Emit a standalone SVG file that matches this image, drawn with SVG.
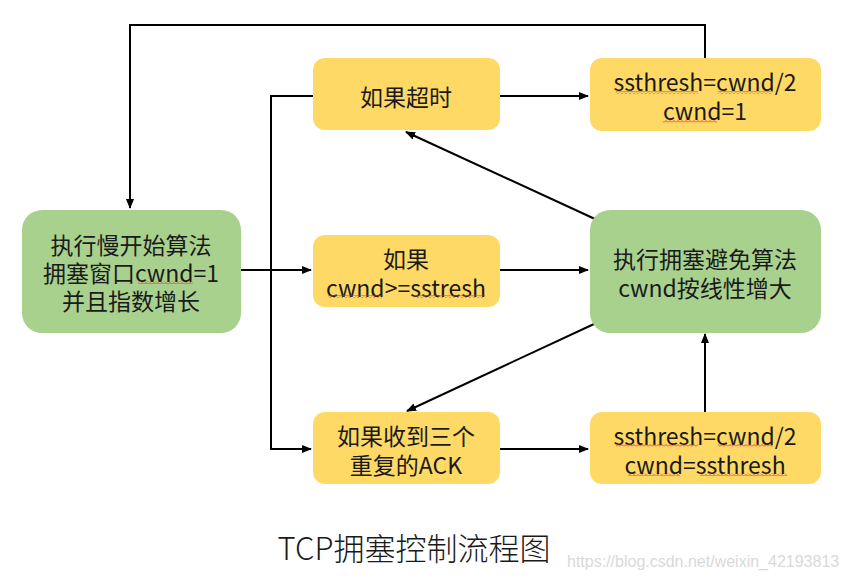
<svg xmlns="http://www.w3.org/2000/svg" width="848" height="581" viewBox="0 0 848 581">
<style>
.y{fill:#FFD966}
.g{fill:#A9D18E}
.t{font-family:"Noto Sans CJK SC","Noto Sans",sans-serif;font-size:23px;fill:#1a1a1a;text-anchor:middle;dominant-baseline:central}
.c{fill:none;stroke:#000;stroke-width:2}
.sq{fill:url(#wave)}
</style>
<defs>
<marker id="ah" markerWidth="10" markerHeight="10" refX="9" refY="5" orient="auto" markerUnits="userSpaceOnUse">
<path d="M0,1 L10,5 L0,9 Z" fill="#000"/>
</marker>
<pattern id="wave" width="4" height="3" patternUnits="userSpaceOnUse">
<path d="M0,2.5 L2,0.5 L4,2.5" fill="none" stroke="#e8312a" stroke-width="0.9"/>
</pattern>
</defs>
<rect width="848" height="581" fill="#fff"/>

<g id="connectors">
<path class="c" d="M705,58 V25 H130 V208" marker-end="url(#ah)"/>
<path class="c" d="M241,270 H311" marker-end="url(#ah)"/>
<path class="c" d="M313,96 H271 V449 H311" marker-end="url(#ah)"/>
<path class="c" d="M500,96 H588" marker-end="url(#ah)"/>
<path class="c" d="M500,270 H588" marker-end="url(#ah)"/>
<path class="c" d="M595,219 L406,132" marker-end="url(#ah)"/>
<path class="c" d="M594,324 L407,411" marker-end="url(#ah)"/>
<path class="c" d="M705,412 V334" marker-end="url(#ah)"/>
<path class="c" d="M500,449 H588" marker-end="url(#ah)"/>
</g>

<g id="slowstart">
<rect class="g" x="22" y="210" width="219" height="123" rx="20"/>
<text class="t" x="131" y="244">执行慢开始算法</text>
<text class="t" x="131" y="272">拥塞窗口cwnd=1</text>
<text class="t" x="131" y="300">并且指数增长</text>
<rect class="sq" x="138" y="281" width="55" height="3"/>
</g>

<g id="timeout">
<rect class="y" x="313" y="58" width="187" height="72" rx="12"/>
<text class="t" x="406" y="96">如果超时</text>
</g>

<g id="reset">
<rect class="y" x="590" y="58" width="231" height="73" rx="12"/>
<text class="t" x="705" y="81">ssthresh=cwnd/2</text>
<text class="t" x="705" y="110">cwnd=1</text>
<rect class="sq" x="616" y="91" width="82" height="3"/>
<rect class="sq" x="718" y="91" width="55" height="3"/>
<rect class="sq" x="663" y="120" width="54" height="3"/>
</g>

<g id="threshold">
<rect class="y" x="313" y="235" width="187" height="72" rx="12"/>
<text class="t" x="406" y="258">如果</text>
<text class="t" x="406" y="287">cwnd&gt;=sstresh</text>
<rect class="sq" x="328" y="295" width="54" height="3"/>
<rect class="sq" x="415" y="295" width="70" height="3"/>
</g>

<g id="avoidance">
<rect class="g" x="590" y="210" width="231" height="123" rx="20"/>
<text class="t" x="705" y="258">执行拥塞避免算法</text>
<text class="t" x="705" y="287">cwnd按线性增大</text>
</g>

<g id="dupack">
<rect class="y" x="313" y="412" width="187" height="72" rx="12"/>
<text class="t" x="406" y="435">如果收到三个</text>
<text class="t" x="406" y="464">重复的ACK</text>
</g>

<g id="fastrecovery">
<rect class="y" x="590" y="412" width="231" height="72" rx="12"/>
<text class="t" x="705" y="435">ssthresh=cwnd/2</text>
<text class="t" x="705" y="464">cwnd=ssthresh</text>
<rect class="sq" x="616" y="444" width="82" height="3"/>
<rect class="sq" x="718" y="444" width="55" height="3"/>
<rect class="sq" x="628" y="473" width="52" height="3"/>
<rect class="sq" x="700" y="473" width="87" height="3"/>
</g>

<text x="414" y="546" style="font-family:'Noto Sans CJK SC','Noto Sans',sans-serif;font-size:31px;font-weight:300;fill:#1a1a1a;text-anchor:middle;dominant-baseline:central">TCP拥塞控制流程图</text>
<text x="567" y="567" style="font-family:'Liberation Sans',Arial,sans-serif;font-size:16px;fill:#d9d9d9">https://blog.csdn.net/weixin_42193813</text>
</svg>
